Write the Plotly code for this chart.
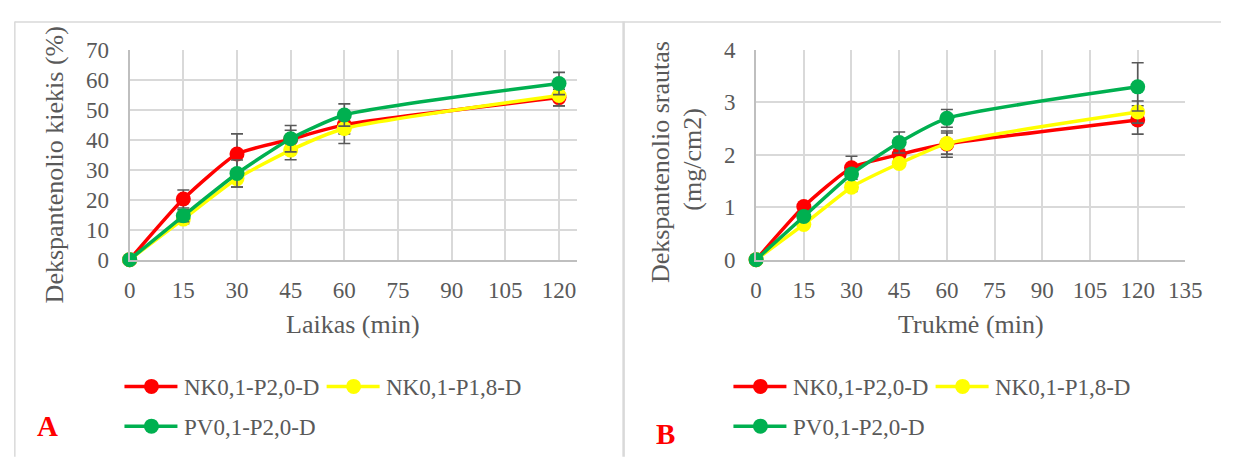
import plotly.graph_objects as go

# ---------------- data ----------------
time_min = [0, 15, 30, 45, 60, 120]
series_names = ["NK0,1-P2,0-D", "NK0,1-P1,8-D", "PV0,1-P2,0-D"]
series_colors = ["#FF0000", "#FFFF00", "#00B050"]

# Panel A: Dekspantenolio kiekis (%)
a_nk20 = [0, 20.2, 35.2, 40.1, 44.9, 54.0]
a_nk18 = [0, 13.5, 27.0, 36.5, 43.7, 54.7]
a_pv20 = [0, 14.6, 28.7, 40.3, 48.2, 58.7]
a_nk20_err = [0, 3.0, 6.7, 3.0, 3.0, 2.8]
a_nk18_err = [0, 1.5, 2.8, 3.2, 5.0, 3.4]
a_pv20_err = [0, 2.0, 4.5, 4.4, 3.7, 3.7]

# Panel B: Dekspantenolio srautas (mg/cm2)
b_nk20 = [0, 1.01, 1.75, 2.00, 2.20, 2.66]
b_nk18 = [0, 0.67, 1.38, 1.83, 2.21, 2.81]
b_pv20 = [0, 0.82, 1.63, 2.23, 2.69, 3.29]
b_nk20_err = [0, 0.05, 0.22, 0.10, 0.25, 0.27]
b_nk18_err = [0, 0.05, 0.08, 0.06, 0.20, 0.21]
b_pv20_err = [0, 0.05, 0.10, 0.20, 0.17, 0.46]

a_xticks = [0, 15, 30, 45, 60, 75, 90, 105, 120]
a_yticks = [0, 10, 20, 30, 40, 50, 60, 70]
b_xticks = [0, 15, 30, 45, 60, 75, 90, 105, 120, 135]
b_yticks = [0, 1, 2, 3, 4]

# ---------------- style ----------------
W, H = 1238, 465
FONT = "Liberation Serif"
TXT = "#595959"
GRID = "#d9d9d9"
AXL = "#bfbfbf"
ERR = "#595959"


def px(x):
    return x / W


def py(y):
    return 1 - y / H


fig = go.Figure()

panels = [
    ("x", "y", [a_nk20, a_nk18, a_pv20], [a_nk20_err, a_nk18_err, a_pv20_err]),
    ("x2", "y2", [b_nk20, b_nk18, b_pv20], [b_nk20_err, b_nk18_err, b_pv20_err]),
]
for xa, ya, vals, errs in panels:
    for name, col, v, e in zip(series_names, series_colors, vals, errs):
        fig.add_trace(go.Scatter(
            x=time_min, y=v, name=name, xaxis=xa, yaxis=ya,
            mode="lines+markers",
            line=dict(color=col, width=3.5, shape="spline", smoothing=0.55),
            marker=dict(color=col, size=15),
            error_y=dict(type="data", array=e, visible=True, color=ERR,
                         thickness=1.6, width=6),
            showlegend=False, cliponaxis=False,
        ))

y_top, y_bot = 39.7, 261.7
axis_common = dict(
    showgrid=True, gridcolor=GRID, gridwidth=2, zeroline=False,
    showline=True, linecolor=AXL, linewidth=2, ticks="",
    tickfont=dict(family=FONT, size=23, color=TXT), fixedrange=True,
)
fig.update_layout(
    width=W, height=H, margin=dict(l=0, r=0, t=0, b=0),
    paper_bgcolor="white", plot_bgcolor="white",
    xaxis=dict(domain=[px(126), px(581.7)], range=[0, 125], tickvals=a_xticks,
               anchor="y", ticklabelstandoff=9, **axis_common),
    yaxis=dict(domain=[py(y_bot), py(y_top)], range=[0, 70], tickvals=a_yticks,
               anchor="x", ticklabelstandoff=14, **axis_common),
    xaxis2=dict(domain=[px(764.3), px(1201.7)], range=[0, 135], tickvals=b_xticks,
                anchor="y2", ticklabelstandoff=9, **axis_common),
    yaxis2=dict(domain=[py(y_bot), py(y_top)], range=[0, 4], tickvals=b_yticks,
                anchor="x2", ticklabelstandoff=14, **axis_common),
    showlegend=False,
)

ann = []


def text(x, y, s, size, angle=0, xanchor="center", color=TXT, bold=False):
    if bold:
        s = "<b>" + s + "</b>"
    ann.append(dict(x=px(x), y=py(y), xref="paper", yref="paper", text=s,
                    showarrow=False, textangle=angle, xanchor=xanchor,
                    yanchor="middle", font=dict(family=FONT, size=size, color=color)))


# axis titles
text(49, 162, "Dekspantenolio kiekis (%)", 26, angle=-90)
text(353.5, 330, "Laikas (min)", 26)
text(667, 159, "Dekspantenolio srautas", 26, angle=-90)
text(700, 155, "(mg/cm2)", 26, angle=-90)
text(983, 330, "Trukmė (min)", 26)
# panel letters
text(42, 438, "A", 29, color="#FF0000", bold=True)
text(672, 446, "B", 29, color="#FF0000", bold=True)

shapes = []
# panel borders
shapes.append(dict(type="line", xref="paper", yref="paper", x0=px(9), x1=px(9),
                   y0=py(10), y1=py(470), line=dict(color=GRID, width=1.5)))
shapes.append(dict(type="line", xref="paper", yref="paper", x0=px(9), x1=px(1238),
                   y0=py(10.5), y1=py(10.5), line=dict(color=GRID, width=1.5)))
shapes.append(dict(type="line", xref="paper", yref="paper", x0=px(629.3), x1=px(629.3),
                   y0=py(10), y1=py(470), line=dict(color=GRID, width=2.5)))

# manual legends
legend_items = [
    (0, 120.7, 395.7), (1, 326.7, 395.7), (2, 120.7, 437.7),
]
for x_off in (0, 620.5):
    for idx, lx, ly in legend_items:
        col = series_colors[idx]
        x0 = lx + x_off
        shapes.append(dict(type="line", xref="paper", yref="paper",
                           x0=px(x0), x1=px(x0 + 54), y0=py(ly), y1=py(ly),
                           line=dict(color=col, width=3.5)))
        shapes.append(dict(type="circle", xref="paper", yref="paper",
                           xsizemode="pixel", ysizemode="pixel",
                           xanchor=px(x0 + 27.5), yanchor=py(ly),
                           x0=-7.5, x1=7.5, y0=-7.5, y1=7.5,
                           fillcolor=col, line=dict(color=col, width=0)))
        text(x0 + 58.5, ly + 1, series_names[idx], 23, xanchor="left")

fig.update_layout(annotations=ann, shapes=shapes)
fig.write_html(
    "out.html",
    config={"staticPlot": True},
    post_script="document.body.style.margin='0';document.body.style.overflow='hidden';",
)
